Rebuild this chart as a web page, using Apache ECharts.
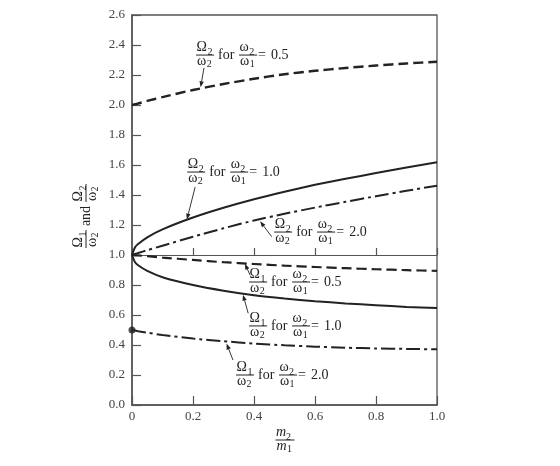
<!DOCTYPE html>
<html>
<head>
<meta charset="utf-8">
<script src="https://cdn.jsdelivr.net/npm/echarts@6/dist/echarts.min.js"></script>
<style>html,body{margin:0;padding:0;background:#fff;}#c{width:560px;height:466px;}</style>
</head>
<body>
<div id="c"></div>
<script>
// ---- data ----
const xs       = [0, 0.01, 0.02, 0.05, 0.1, 0.2, 0.3, 0.4, 0.5, 0.6, 0.7, 0.8, 0.9, 1.0];
const upper05  = [2.0, 2.005, 2.01, 2.027, 2.053, 2.10, 2.14, 2.175, 2.205, 2.228, 2.247, 2.263, 2.277, 2.288];
const upper10  = [1.0, 1.051, 1.073, 1.118, 1.171, 1.25, 1.315, 1.372, 1.422, 1.468, 1.508, 1.546, 1.583, 1.618];
const upper20  = [1.0, 1.007, 1.013, 1.032, 1.062, 1.122, 1.178, 1.23, 1.275, 1.316, 1.355, 1.392, 1.428, 1.462];
const lower05  = [1.0, 0.998, 0.997, 0.992, 0.983, 0.967, 0.952, 0.94, 0.929, 0.92, 0.912, 0.905, 0.899, 0.894];
const lower10  = [1.0, 0.951, 0.932, 0.894, 0.852, 0.80, 0.762, 0.732, 0.71, 0.692, 0.677, 0.665, 0.654, 0.646];
const lower20  = [0.5, 0.496, 0.492, 0.482, 0.466, 0.443, 0.425, 0.41, 0.398, 0.389, 0.382, 0.377, 0.374, 0.371];
const xTickLabels = ['0', '0.2', '0.4', '0.6', '0.8', '1.0'];
const yTickLabels = ['0.0','0.2','0.4','0.6','0.8','1.0','1.2','1.4','1.6','1.8','2.0','2.2','2.4','2.6'];
const ratioValues = ['0.5', '1.0', '2.0'];

// annotation anchors (data coords): [left of first fraction, fraction bar]
const labelDefs = [
  {sub:'2', val:ratioValues[0], at:[0.210, 2.333], tail:[0.236, 2.247], tip:[0.225, 2.118]},
  {sub:'2', val:ratioValues[1], at:[0.181, 1.553], tail:[0.207, 1.453], tip:[0.180, 1.236]},
  {sub:'2', val:ratioValues[2], at:[0.466, 1.153], tail:[0.458, 1.122], tip:[0.420, 1.225]},
  {sub:'1', val:ratioValues[0], at:[0.384, 0.820], tail:[0.387, 0.867], tip:[0.370, 0.942]},
  {sub:'1', val:ratioValues[1], at:[0.384, 0.527], tail:[0.381, 0.611], tip:[0.364, 0.735]},
  {sub:'1', val:ratioValues[2], at:[0.341, 0.200], tail:[0.331, 0.300], tip:[0.310, 0.410]}
];

const FONT = '"Liberation Serif", "DejaVu Serif", serif';
const INK = '#222';
const AX = '#555';

function pairs(arr){ return xs.map((x,i)=>[x, arr[i]]); }
function lineSeries(arr, type, width){
  return {type:'line', data:pairs(arr), showSymbol:false, smooth:0.2, silent:true,
    lineStyle:{color:INK, width:width, type:type}, z:3};
}

const chart = echarts.init(document.getElementById('c'), null, {renderer:'canvas'});
const GRID = {left:132, right:123, top:15, bottom:61};
const plotH = 466 - GRID.top - GRID.bottom;
const yMax = 2.6;

chart.setOption({
  animation:false,
  backgroundColor:'#fff',
  grid:{left:GRID.left, right:GRID.right, top:GRID.top, bottom:GRID.bottom, show:true, borderColor:AX, borderWidth:1.3},
  xAxis:[{
    type:'value', min:0, max:1, interval:0.2,
    axisLine:{show:true, onZero:false, lineStyle:{color:AX, width:1.5}},
    axisTick:{show:true, inside:true, length:9, lineStyle:{color:AX, width:1.2}},
    splitLine:{show:false},
    axisLabel:{fontFamily:FONT, fontSize:13, color:'#444', margin:5,
      formatter:v=>xTickLabels[Math.round(v/0.2)]}
  },{
    type:'value', min:0, max:1, interval:0.2, position:'bottom',
    offset:-plotH*(1.0/yMax),
    axisLine:{show:true, onZero:false, lineStyle:{color:AX, width:1.2}},
    axisTick:{show:true, inside:true, length:7, lineStyle:{color:AX, width:1.2}},
    axisLabel:{show:false}, splitLine:{show:false}
  }],
  yAxis:{
    type:'value', min:0, max:yMax, interval:0.2,
    axisLine:{show:true, onZero:false, lineStyle:{color:AX, width:1.5}},
    axisTick:{show:true, inside:true, length:9, lineStyle:{color:AX, width:1.2}},
    splitLine:{show:false},
    axisLabel:{fontFamily:FONT, fontSize:13, color:'#444', margin:7,
      formatter:v=>yTickLabels[Math.round(v/0.2)]}
  },
  series:[
    lineSeries(upper05, [10,5], 2.4),
    lineSeries(upper10, 'solid', 2),
    lineSeries(upper20, [14,4,3,4], 2),
    lineSeries(lower05, [10,5], 2.2),
    lineSeries(lower10, 'solid', 2),
    lineSeries(lower20, [14,4,3,4], 2),
    {type:'scatter', data:[[xs[0], lower20[0]]], symbolSize:7, itemStyle:{color:INK}, z:4, silent:true}
  ]
});

// ---- annotation helpers ----
function txt(x, y, s, size, align, valign, italic){
  return {type:'text', x:x, y:y, silent:true, z:10,
    style:{text:s, font:(italic?'italic ':'')+size+'px '+FONT, fill:INK,
      align:align, verticalAlign:valign, textAlign:align, textVerticalAlign:valign}};
}
function frac(x, yb, a, aSub, b, bSub, opts){
  opts = opts || {};
  const w = opts.width || 18, wa = opts.wa || 11, wb = opts.wb || 9.6, it = !!opts.italic;
  return [
    txt(x+0.5, yb-0.5, a, 14, 'left', 'bottom', it),
    txt(x+0.5+wa, yb+2, aSub, 10, 'left', 'bottom', false),
    {type:'line', silent:true, z:10, shape:{x1:x, y1:yb, x2:x+w, y2:yb}, style:{stroke:INK, lineWidth:1}},
    txt(x+1, yb-1, b, 14, 'left', 'top', it),
    txt(x+1+wb, yb+4.5, bSub, 10, 'left', 'top', false)
  ];
}
function arrow(p0, p1){
  const dx = p1[0]-p0[0], dy = p1[1]-p0[1], L = Math.hypot(dx,dy);
  const ux = dx/L, uy = dy/L, nx = -uy, ny = ux, hl = 6, hw = 2.2;
  const bx = p1[0]-ux*hl, by = p1[1]-uy*hl;
  return [
    {type:'line', silent:true, z:10, shape:{x1:p0[0], y1:p0[1], x2:bx, y2:by}, style:{stroke:INK, lineWidth:0.9}},
    {type:'polygon', silent:true, z:10, shape:{points:[[p1[0],p1[1]],[bx+nx*hw,by+ny*hw],[bx-nx*hw,by-ny*hw]]}, style:{fill:INK}}
  ];
}
const toPx = p => chart.convertToPixel({xAxisIndex:0, yAxisIndex:0}, p);

let els = [];
labelDefs.forEach(d=>{
  const p = toPx(d.at);
  const x0 = p[0], yb = p[1];
  els = els.concat(frac(x0, yb, 'Ω', d.sub, 'ω', '2'));
  els.push(txt(x0+22, yb, 'for', 14, 'left', 'middle'));
  els = els.concat(frac(x0+43, yb, 'ω', '2', 'ω', '1', {wa:9.6}));
  els.push(txt(x0+62, yb, '=', 14, 'left', 'middle'));
  els.push(txt(x0+75, yb, d.val, 14, 'left', 'middle'));
  els = els.concat(arrow(toPx(d.tail), toPx(d.tip)));
});

// y axis title (rotated)
const pYmid = toPx([0, 1.0]);
let yt = [];
yt = yt.concat(frac(-32, 0, 'Ω', '1', 'ω', '2'));
yt.push(txt(0, 0, 'and', 14, 'center', 'middle'));
yt = yt.concat(frac(14, 0, 'Ω', '2', 'ω', '2'));
els.push({type:'group', x:pYmid[0]-46, y:216, rotation:Math.PI/2, children:yt});

// x axis title
const pXmid = toPx([0.5, 0]);
let xt = frac(-9, 0, 'm', '2', 'm', '1', {italic:true, wa:10, wb:10.5, width:19});
els.push({type:'group', x:pXmid[0], y:pXmid[1]+35, children:xt});

chart.setOption({graphic:{elements:els}});
</script>
</body>
</html>
